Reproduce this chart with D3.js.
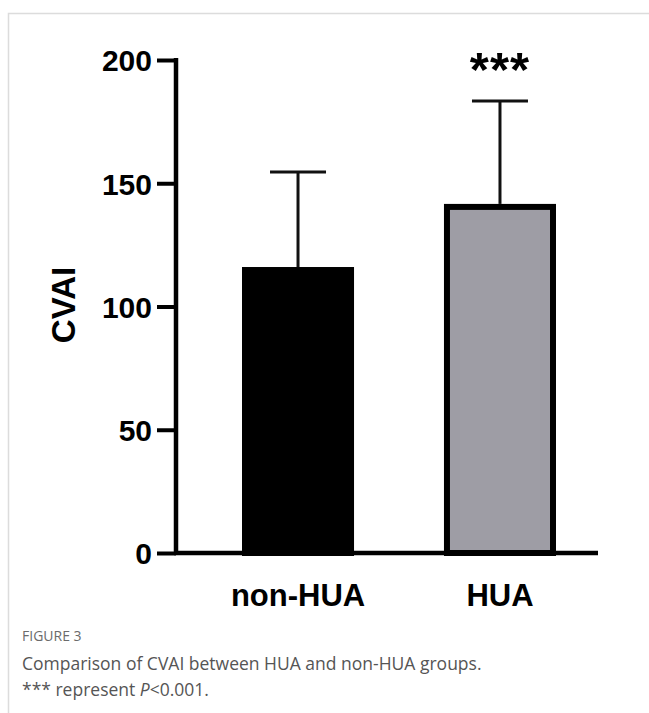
<!DOCTYPE html>
<html>
<head>
<meta charset="utf-8">
<script src="https://cdn.jsdelivr.net/npm/d3@7"></script>
<style>
  html, body { margin: 0; padding: 0; background: #fff; }
  svg { display: block; }
</style>
</head>
<body>
<svg id="chart" width="649" height="713"></svg>
<script>
// ---- data ----
const categories = ["non-HUA", "HUA"];
const means = [114.8, 140.4];
const upperErr = [154.6, 183.4];
const barFills = ["#000000", "#9e9da5"];
const yTicks = [0, 50, 100, 150, 200];
const yLabel = "CVAI";
const significance = ["", "***"];
const captionTitle = "FIGURE 3";
const captionLines = ["Comparison of CVAI between HUA and non-HUA groups."];

const svg = d3.select("#chart");

// panel border (light grey, top and left)
svg.append("path")
  .attr("d", "M8.5,713 L8.5,13.5 L649,13.5")
  .attr("fill", "none").attr("stroke", "#dcdcdc").attr("stroke-width", 1.5);

const axisX = 176, axisRight = 598;
const y = d3.scaleLinear().domain([0, 200]).range([553, 60]);
const x = d3.scaleBand().domain(categories).range([245, 553]).paddingInner(0.475).paddingOuter(0);

// bars
svg.selectAll("rect.bar").data(categories).enter().append("rect")
  .attr("class", "bar")
  .attr("x", d => x(d))
  .attr("width", x.bandwidth())
  .attr("y", (d, i) => y(means[i]))
  .attr("height", (d, i) => y(0) - y(means[i]))
  .attr("fill", (d, i) => barFills[i])
  .attr("stroke", "#000").attr("stroke-width", 6);

// error bars
const capW = 56;
categories.forEach((c, i) => {
  const cx = x(c) + x.bandwidth() / 2;
  svg.append("line")
    .attr("x1", cx).attr("x2", cx)
    .attr("y1", y(means[i]) - 3).attr("y2", y(upperErr[i]))
    .attr("stroke", "#111").attr("stroke-width", 3);
  svg.append("line")
    .attr("x1", cx - capW / 2).attr("x2", cx + capW / 2)
    .attr("y1", y(upperErr[i])).attr("y2", y(upperErr[i]))
    .attr("stroke", "#111").attr("stroke-width", 3);
  if (significance[i]) {
    svg.append("text")
      .attr("x", cx).attr("y", 86)
      .attr("text-anchor", "middle")
      .attr("font-family", "Liberation Sans, Arial, sans-serif")
      .attr("font-weight", "bold")
      .attr("font-size", 49)
      .attr("letter-spacing", 1)
      .attr("fill", "#000")
      .text(significance[i]);
  }
});

// y axis
const yAxis = d3.axisLeft(y).tickValues(yTicks).tickSize(19).tickPadding(5).tickFormat(d3.format("d"));
const gy = svg.append("g").attr("transform", `translate(${axisX},0)`).call(yAxis);
gy.select(".domain").remove();
gy.selectAll(".tick line").attr("stroke", "#000").attr("stroke-width", 4);
gy.selectAll(".tick text")
  .attr("font-family", "Liberation Sans, Arial, sans-serif")
  .attr("font-weight", "bold")
  .attr("font-size", 30)
  .attr("fill", "#000")
  .attr("dy", "0.36em");
svg.append("line")
  .attr("x1", axisX).attr("x2", axisX)
  .attr("y1", y(200) - 2).attr("y2", y(0) + 2)
  .attr("stroke", "#000").attr("stroke-width", 4.5);

// x axis
svg.append("line")
  .attr("x1", axisX - 2).attr("x2", axisRight)
  .attr("y1", y(0)).attr("y2", y(0))
  .attr("stroke", "#000").attr("stroke-width", 4.5);
const xAxis = d3.axisBottom(x).tickSize(0).tickPadding(0);
const gx = svg.append("g").attr("transform", `translate(0,${y(0)})`).call(xAxis);
gx.select(".domain").remove();
gx.selectAll(".tick text")
  .attr("font-family", "Liberation Sans, Arial, sans-serif")
  .attr("font-weight", "bold")
  .attr("font-size", 31)
  .attr("fill", "#000")
  .attr("dy", 0).attr("y", 53);

// y label
svg.append("text")
  .attr("transform", "translate(75,305) rotate(-90)")
  .attr("text-anchor", "middle")
  .attr("font-family", "Liberation Sans, Arial, sans-serif")
  .attr("font-weight", "bold")
  .attr("font-size", 33)
  .attr("fill", "#000")
  .text(yLabel);

// caption
svg.append("text")
  .attr("x", 22).attr("y", 641)
  .attr("font-family", "Open Sans, sans-serif")
  .attr("font-size", 14)
  .attr("fill", "#6b6b6b")
  .text(captionTitle);
svg.append("text")
  .attr("x", 22).attr("y", 670)
  .attr("font-family", "Open Sans, sans-serif")
  .attr("font-size", 17.5)
  .attr("fill", "#555")
  .text(captionLines[0]);
const l3 = svg.append("text")
  .attr("x", 22).attr("y", 696)
  .attr("font-family", "Open Sans, sans-serif")
  .attr("font-size", 17.5)
  .attr("fill", "#555");
l3.append("tspan").text("*** represent ");
l3.append("tspan").attr("font-style", "italic").text("P");
l3.append("tspan").text("<0.001.");
</script>
</body>
</html>
